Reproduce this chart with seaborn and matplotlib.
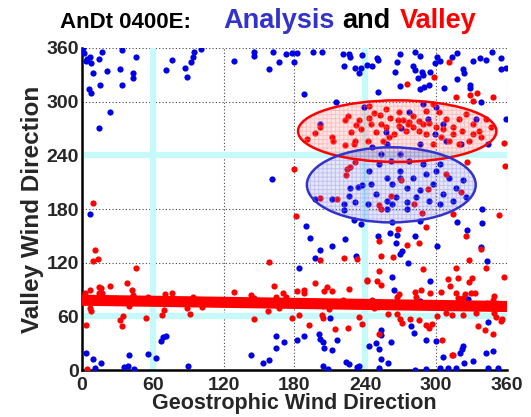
import matplotlib
matplotlib.use("Agg")
import matplotlib.pyplot as plt
from matplotlib.patches import Ellipse
import seaborn as sns
import pandas as pd

# Analysis (blue) points: geostrophic dir, valley dir
blue_x = [1, 2, 4.5, 7, 7.6, 3.7, 17, 14, 34, 46, 9, 21, 32, 43, 43, 34, 15, 6, 8, 24, 14, 71, 76, 87, 89, 92, 94, 95, 101,
          146, 146, 129, 162, 173, 178, 182, 196, 203, 221, 226, 227, 237, 241, 158, 167, 180, 222, 231, 236, 235, 188, 215, 161, 239, 202,
          234, 237, 227, 226, 197, 212, 231, 222, 242,
          250, 246, 251, 269, 267, 265, 282, 286, 280, 282, 288, 285, 289, 295, 299, 303, 301, 313, 318, 323, 324, 331, 337, 342, 347, 355,
          355, 359, 269, 286, 290, 294, 307, 318, 329, 329, 338, 251, 359,
          257.5, 270, 277, 289, 293, 300, 306, 299, 308, 321, 334, 344, 269, 258, 246, 286,
          243, 252, 258, 263, 269, 275, 280, 286, 291, 297, 300, 306, 311, 317, 323, 325, 314, 303, 294, 283, 275, 266, 258, 249, 245,
          253, 262, 277, 289, 303, 269, 263,
          7, 3, 9, 16, 11, 40, 39, 44, 63, 56, 67, 69, 71, 90,
          190, 193, 223, 212, 202, 197, 232, 184, 210, 164, 164, 171, 143, 158, 182, 188, 201, 202, 204, 205, 212, 216, 204, 208, 224,
          226, 233, 235, 243, 230, 236, 222,
          263, 286, 251, 261, 267, 266, 282, 269, 271, 276, 318, 326, 339, 339, 301, 338, 343, 263, 264, 295, 286, 327, 344, 253, 253,
          279, 281, 249, 252, 262, 291, 300, 253, 259, 252, 282, 291, 306, 310, 317, 320, 323, 322, 331, 342, 348, 352, 258, 275,
          153, 36, 303, 344, 324]
blue_y = [360, 354, 348, 350, 343, 346, 355, 348, 358, 350, 332, 334, 336, 332, 327, 319, 319, 314, 310, 289, 271, 335, 347, 338, 328, 344, 350, 355, 359,
          355, 351, 346, 356, 353, 354, 354, 355, 356, 353, 353, 350, 352, 341, 336, 344, 344, 340, 338, 338, 332, 309, 300, 214, 294, 275,
          205, 207, 203, 195, 191, 191, 188, 186, 186,
          349, 340, 347, 353, 344, 333, 356, 351, 340, 335, 333, 326, 330, 333, 343, 346, 350, 350, 354, 336, 332, 346, 349, 347, 356, 349,
          337, 338, 317, 314, 316, 319, 315, 325, 319, 315, 300, 311, 281,
          266, 271, 288, 297, 281, 294, 275, 264, 256, 253, 281, 253, 242, 253, 249, 253,
          223, 230, 215, 208, 223, 204, 215, 201, 219, 208, 223, 197, 215, 204, 212, 193, 189, 186, 189, 193, 188, 193, 189, 197, 208,
          242, 234, 234, 230, 230, 215, 186,
          174, 19, 12, 8, 2, 17, 4, 1, 13, 18, 32, 37, 38, 5,
          161, 148, 147, 139, 134, 125, 128, 114, 58, 38, 25, 31, 17, 11, 34, 38, 40, 35, 31, 25, 22, 34, 5, 1, 9,
          7, 3, 5, 27, 168, 163, 179,
          166, 167, 150, 153, 151, 142, 150, 130, 133, 120, 166, 157, 164, 180, 139, 137, 122, 104, 90, 99, 77, 79, 54, 45, 39,
          49, 41, 30, 24, 31, 34, 32, 12, 8, 2, 0, 1, 14, 2, 2, 19, 27, 24, 10, 19, 21, 2, 180, 180,
          8, 3, 2, 2, 8]

# Valley (red) points
red_x = [9, 10.7, 9, 13.8, 46, 2.3, 6.5, 14, 16, 23.7, 14, 17, 21.5, 38.4, 42.6, 43, 7, 8, 3.4, 34.4, 32.5, 34, 39.8, 56, 54.5,
         67.7, 69.4, 70.3, 70.6, 76, 88.6, 91.8, 94.3, 101.6, 4.5,
         225, 222.5, 232, 235, 236.6, 228, 197, 212, 212.6, 190.6, 231, 230.7, 222.5, 202, 243, 231, 226.7, 224.8, 224, 179.6, 202, 216,
         275, 298, 311, 317, 329, 335, 348, 331, 357.5, 358.6, 326.4,
         243.4, 247.1, 252.5, 257.5, 261.2, 268.3, 271.6, 275.9, 280.1, 285.8, 291.4, 297.1, 302.7, 308.4, 314, 319.6, 325.3, 330.9,
         336.6, 342.2, 346.5, 338, 328.1, 319.6, 311.2, 304.1, 297.1, 291.4, 285.8, 280.1, 274.5, 268.8, 264.6, 260.4, 254.7, 249.1,
         244.8, 242, 267.4, 277.3, 288.8, 294.2, 299.9, 305.5, 314, 322.3, 330.9, 257.5, 253.3,
         270, 293, 308, 262, 281.5, 321, 252,
         181.3, 158.1, 201.6, 222.2, 233, 129, 143.4, 146, 162.4, 164, 170.5, 173.1, 182.4, 188, 188.3, 197, 205, 207.8, 211.5, 226.4,
         220.8, 225.9, 241.1, 157.6, 167.2, 146, 177.9, 183.5, 203.3, 204.1, 209.5, 192.6, 214.3, 225.3, 234.9, 237.2, 204.1,
         253.3, 288, 314.6, 353, 268, 291.4, 251.9, 285.2, 275.6, 253.6, 263.2, 325, 338, 328.1, 316.5, 342.2, 357.7, 288.6, 251.9,
         241.4, 249.6, 253.3, 310, 318.5, 311.7, 330.4, 328.1, 268.3, 266.6, 281.8, 286.9, 283, 295.1, 304.1, 316.8, 324.2, 329.5,
         333.2, 318.5, 323, 349, 347.9, 343.1, 245.7, 258.9, 266.6, 269.4, 271.1, 277.9, 285.8, 291.1, 293.7, 296.2, 300.5, 308.1,
         313.4, 322.8, 333.8, 350.7, 355, 355.8, 335.2, 341.7, 348.4, 251.3, 305, 313.4, 349, 247.7, 314]
red_y = [187, 134, 121.5, 124, 114, 86, 90, 93, 92, 94, 86, 86, 81, 97, 90, 84, 69, 66, 50, 60, 56, 49, 71, 82, 58,
         61.5, 67.5, 85.4, 81, 86, 69, 63, 82, 70, 1.5,
         284, 279.5, 273.6, 279.5, 269.5, 266, 264.6, 260, 256.4, 258.3, 256.4, 252.7, 251.2, 271.3, 282, 233, 226.6, 224.7, 218, 224.4, 192, 191,
         320, 328, 344, 305, 307, 310, 305, 301, 254, 228.5, 232.6,
         295.5, 287, 285.5, 291.8, 281.4, 288.8, 279.5, 275, 284.4, 278.8, 290, 297.4, 288.1, 280.6, 271.3, 280.6, 286.2, 275,
         267.6, 280.6, 271.3, 260.1, 256.4, 252.7, 256.4, 260.1, 252.7, 263.9, 267.6, 271.3, 267.6, 273.2, 263.9, 260.1, 256.4, 265.7,
         275, 256.4, 279.5, 277.7, 274.6, 276, 271.3, 269.5, 263.9, 267.6, 263.9, 271.3, 275,
         212, 202, 219, 194, 186, 199, 184,
         172.2, 120.8, 123, 125.6, 123.8, 86.9, 83.9, 80.2, 93.6, 81.3, 85.7, 81.3, 88.4, 89.5, 86.5, 97.7, 88.4, 93.2, 88.4, 90.6,
         78.7, 76.4, 99.9, 65.6, 69, 57, 58.2, 61.1, 61.5, 57.8, 67.9, 50.7, 46.2, 47, 59.3, 51.1, 71.6,
         179.7, 176, 174.5, 173, 158.1, 159.5, 144.3, 141.7, 139.4, 127.5, 126.4, 149.9, 135, 123, 113.7, 114.4, 103.6, 112.6, 110.7,
         100.7, 99.2, 95.4, 101.4, 102.9, 93.6, 102.5, 98.4, 85, 81.7, 87.6, 89.5, 82, 86.5, 87.2, 85.7, 85, 85.7,
         86.5, 80.9, 80.5, 82.8, 78.3, 75.3, 78.3, 62.3, 62.3, 56.7, 53, 57.4, 55.9, 50.7, 47, 51.5, 60.4, 63.4,
         61.9, 61.1, 64.1, 58.9, 54.4, 57.4, 49.2, 44.4, 40.7, 39.9, 33.2, 17.2, 64.1, 69.7, 17.2]

# fitted valley line end points
fit_x = [0, 360]
fit_y = [78, 71]

# ellipses: center x, center y, width, height
red_ell = (267, 267, 168, 69)
blue_ell = (262, 207, 143, 84)

ref_lines = [60, 240]
ticks = [0, 60, 120, 180, 240, 300, 360]

blue_df = pd.DataFrame({"geo": blue_x, "valley": blue_y})
red_df = pd.DataFrame({"geo": red_x, "valley": red_y})

sns.set_style("white")
plt.rcParams['font.family'] = ['Liberation Sans', 'DejaVu Sans']
plt.rcParams['font.weight'] = 'bold'
plt.rcParams['hatch.linewidth'] = 0.7

fig = plt.figure(figsize=(5.31, 4.17), dpi=100)
ax = fig.add_axes([0.1544, 0.1127, 0.8004, 0.7722])

for v in ref_lines:
    ax.axvline(v, color='#c6fafa', lw=4.5, zorder=1)
    ax.axhline(v, color='#c6fafa', lw=4.5, zorder=1)

sns.scatterplot(data=blue_df, x="geo", y="valley", color='#0000e6', s=20, linewidth=0, ax=ax, zorder=3)
sns.scatterplot(data=red_df, x="geo", y="valley", color='#ff0000', s=20, linewidth=0, ax=ax, zorder=3)

ax.plot(fit_x, fit_y, color='#ff0000', lw=8, zorder=4, solid_capstyle='butt')

for (cx, cy, w, h), fc, hc, ec in [(red_ell, (1, 0, 0, 0.10), (1, 0.5, 0.5, 0.35), '#ff0000'),
                                   (blue_ell, (0.25, 0.25, 0.85, 0.13), (0.5, 0.5, 0.9, 0.35), '#3333cc')]:
    ax.add_patch(Ellipse((cx, cy), w, h, facecolor=fc, edgecolor=hc, hatch='++++', lw=0, zorder=5))
    ax.add_patch(Ellipse((cx, cy), w, h, facecolor='none', edgecolor=ec, lw=1.8, zorder=6))

ax.set_xlim(0, 360)
ax.set_ylim(0, 360)
ax.set_xticks(ticks)
ax.set_yticks(ticks)
ax.set_xticklabels([str(t) for t in ticks], fontsize=14, fontweight='bold')
ax.set_yticklabels([str(t) for t in ticks], fontsize=14, fontweight='bold')
ax.tick_params(direction='in', length=4, width=1)
ax.tick_params(axis='x', pad=5)
ax.tick_params(axis='y', pad=2)
ax.grid(True, linestyle=(0, (1, 2)), color='#444444', lw=0.8)
ax.set_axisbelow(True)
for sp in ['top', 'right']:
    ax.spines[sp].set_visible(False)
for sp in ['left', 'bottom']:
    ax.spines[sp].set_linewidth(1.8)
    ax.spines[sp].set_color('black')

ax.set_xlabel('Geostrophic Wind Direction', fontsize=15.5, fontweight='bold', labelpad=-1)
ax.set_ylabel('Valley Wind Direction', fontsize=17.5, fontweight='bold', labelpad=2)

fig.text(60 / 531, 1 - 28 / 417, 'AnDt 0400E:', fontsize=16, fontweight='bold', color='black', va='baseline')
fig.text(223 / 531, 1 - 28 / 417, 'Analysis', fontsize=19.5, fontweight='bold', color='#3333cc', va='baseline')
fig.text(342 / 531, 1 - 28 / 417, 'and', fontsize=19.5, fontweight='bold', color='black', va='baseline')
fig.text(400 / 531, 1 - 28 / 417, 'Valley', fontsize=19.5, fontweight='bold', color='#ff0000', va='baseline')

fig.savefig('out.png', dpi=100)
